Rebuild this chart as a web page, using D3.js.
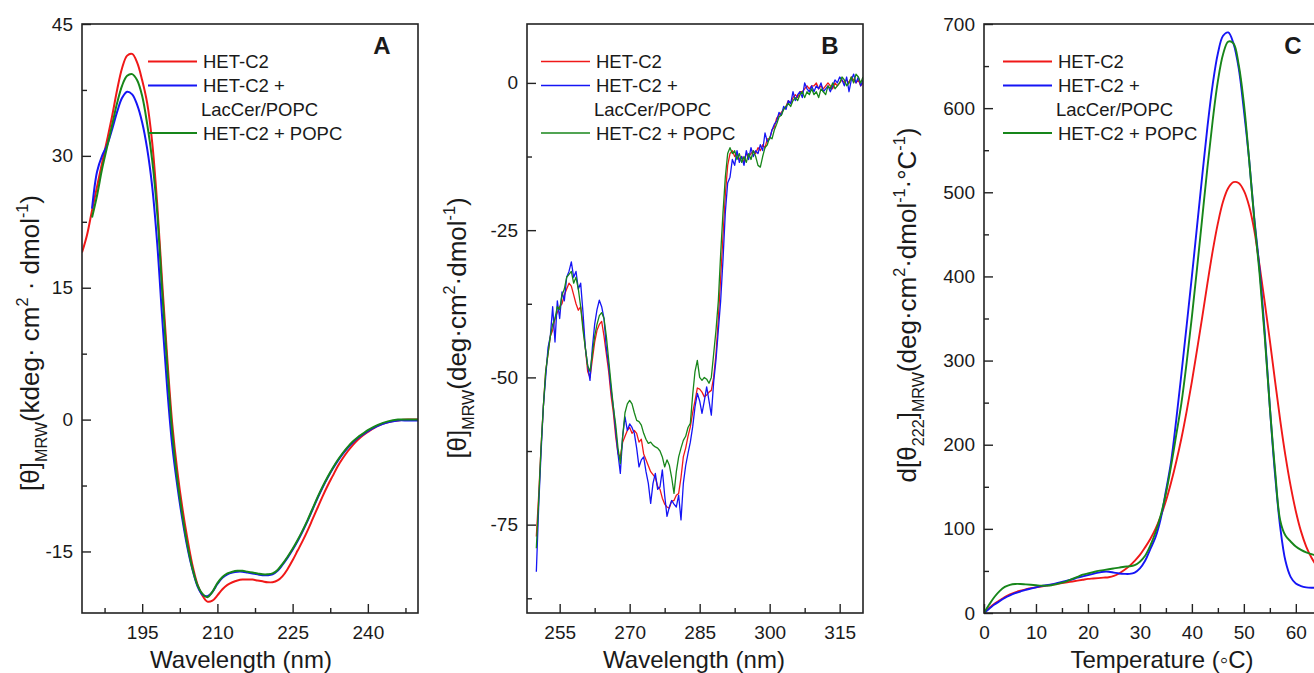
<!DOCTYPE html>
<html>
<head>
<meta charset="utf-8">
<script src="https://cdn.jsdelivr.net/npm/d3@7"></script>
<style>
  body { margin: 0; background: #fff; }
  text { font-family: Arial, "Liberation Sans", sans-serif; fill: #1a1a1a; }
</style>
</head>
<body>
<svg id="chart" width="1314" height="673"></svg>
<script>
// series names / colours shared by the three panels
const seriesNames = ["HET-C2", "HET-C2 +", "HET-C2 + POPC"];
const seriesColors = ["#f01818", "#1515f5", "#17861a"];

// panel A: far-UV CD (kdeg cm2 dmol-1)
const wlA = [183,184,185,186,187,188,189,190,191,192,193,194,195,196,197,198,199,200,201,202,203,204,205,206,207,208,209,210,
  211,212,213,214,215,216,217,218,219,220,221,222,223,224,225,226,227,228,229,230,231,232,233,234,235,236,237,238,239,240,242,244,246,248,250];
const redA = [19,21,23.8,26.5,29.2,31.8,34.5,37.5,40,41.4,41.6,40.6,38.6,36,31.5,24.5,15.5,7,-0.5,-5.8,-10,-13.5,-16.5,-18.7,-20,-20.7,-20.6,-20,
  -19.3,-18.8,-18.5,-18.3,-18.2,-18.2,-18.2,-18.3,-18.4,-18.5,-18.5,-18.3,-17.8,-17,-16,-14.9,-13.8,-12.6,-11.3,-10,-8.7,-7.5,-6.4,-5.3,-4.4,-3.6,-2.9,-2.3,-1.8,-1.4,-0.7,-0.3,-0.1,0,0];
const blueA = [null,null,24,28.2,30,31.2,33,35,36.6,37.3,37,35.8,33.8,30.8,26.5,20,11.5,3.5,-3,-7.5,-11.3,-14.5,-17,-18.9,-19.9,-20.1,-19.6,-18.7,
  -18,-17.6,-17.4,-17.3,-17.3,-17.4,-17.5,-17.6,-17.7,-17.7,-17.6,-17.2,-16.5,-15.7,-14.8,-13.8,-12.7,-11.5,-10.2,-8.9,-7.7,-6.6,-5.6,-4.7,-3.9,-3.2,-2.6,-2.1,-1.7,-1.3,-0.7,-0.3,-0.1,-0.1,-0.1];
const greenA = [null,null,23,25.5,28.5,31,33.5,36,38,39.1,39.3,38.6,36.8,33.6,29.5,23.5,14.5,6,-1.5,-6.8,-10.8,-14.2,-16.9,-18.8,-19.8,-20.2,-19.6,-18.6,
  -17.9,-17.5,-17.3,-17.2,-17.2,-17.3,-17.4,-17.5,-17.6,-17.6,-17.5,-17.1,-16.4,-15.6,-14.7,-13.7,-12.6,-11.4,-10.1,-8.8,-7.6,-6.5,-5.5,-4.6,-3.8,-3.1,-2.5,-2,-1.6,-1.2,-0.6,-0.2,0,0,0];

// panel B: near-UV CD, sampled every 0.5 nm from 250 to 320 nm
const wlB = d3.range(250, 320.25, 0.5);
const redB = [-77,-70,-62,-55,-49,-46,-43,-42,-40,-39,-38,-37.5,-36,-35,-34,-34.5,-36,-37.5,-38.6,-38,
  -41,-45,-49,-50,-47,-44,-42,-41,-40.5,-43,-46,-49,-53,-56,-60,-63,-63.5,-61,-60,-59,
  -58.5,-59.5,-59,-59.5,-61,-60.5,-63,-64,-65,-66,-66.5,-67,-68.5,-69,-70.5,-71.5,-72,-72.2,-71,-70.9,
  -70,-69.7,-67,-63.5,-62,-60,-58.4,-56,-54,-51.8,-52,-52.5,-53.3,-53,-52.5,-52.2,-50,-46,-40,-33,
  -26,-19,-14,-12,-11.5,-12.5,-12,-13,-12.5,-13.5,-12,-12.5,-12,-11.5,-12,-11,-11.5,-10.5,-11,-9.5,
  -9.5,-8,-7.5,-6,-5.5,-5,-4.5,-4,-3,-3.5,-2.5,-2,-2.5,-1.5,-1.5,-1,-0.5,-1,-0.5,-0.5,
  0,-1,-0.5,-1,-0.5,0,-0.5,-1,0,-0.5,0,0.5,0,0.5,0,1,0.5,0,0.5,-0.5,0];
const blueB = [-83,-72,-63,-55,-50,-45,-43,-38,-44,-37,-40,-35.5,-37,-33,-32,-30.4,-33,-32,-35,-34,
  -39,-45,-48,-50.5,-45,-41,-38.5,-36.9,-38,-40,-45,-48,-52,-55,-59,-63,-66.3,-60,-56.7,-59,
  -57.9,-58.5,-59.5,-62,-65.2,-64,-63.5,-66,-68,-71.4,-68,-66.3,-69,-68.6,-65.7,-70,-73.6,-72,-70.9,-71.5,
  -72,-70,-74.2,-68,-65,-62.9,-61,-58.4,-55,-52.7,-54,-56.1,-54,-51.6,-54,-56.4,-50.8,-47,-42,-37,
  -30,-22,-17,-16,-13,-14,-11.5,-13.5,-12.5,-14,-11.5,-13,-11,-12.5,-11.5,-12,-10.5,-11.5,-8.5,-10,
  -9.5,-8,-7,-6.5,-5,-5.5,-4,-4.5,-3,-3.5,-1.5,-3,-2,-1.5,-2.5,0,-1,-1.5,-0.5,-1.5,
  -0.5,-1,0,-1.5,-1,-0.5,-1.5,-0.5,0.5,0,1,0.5,-0.5,1,-1.5,0.5,1.5,0,1,-0.5,0.5];
const greenB = [-79,-71,-62,-55,-49,-46,-43,-41,-40,-38,-38.5,-36,-35,-33,-32.5,-32,-34,-33,-35,-38,
  -42,-45,-48,-49,-46,-43,-41,-39.5,-39,-40,-43,-47,-51,-55,-58,-62,-64.6,-60,-56,-54.5,
  -53.9,-54.5,-56,-57.3,-57.5,-58.1,-59.5,-60.5,-61.2,-61,-61.5,-61.8,-62,-62.5,-63.5,-65.2,-64,-64.9,-67,-69.7,
  -66,-63.5,-62,-60.7,-60,-58.5,-57.8,-53,-49,-47.1,-50,-50.5,-50,-50.3,-51,-50,-46,-42,-37,-29,
  -22,-16,-12,-11,-12,-11.5,-13,-12,-13.5,-12.5,-13.5,-12,-13,-11.5,-12.5,-14,-14.3,-12.5,-11,-10.5,
  -9.2,-9.5,-8,-7,-5.8,-5.5,-4.5,-4,-3.5,-4,-3,-2.5,-3,-2,-1.5,-2.5,-1.5,-2,-1,-2,
  -1.5,-2.5,-1,-1.5,-2,-0.5,-1,0,-1,-0.5,0,1,0.5,-0.5,0,1,0,1.5,1,0,1];

// panel C: first derivative of thermal melt, every 1 degree C
const tempC = d3.range(0, 67, 1);
const redC = [0,6,11,15,19,22,24.5,26.5,28,29.5, 30.5,31.5,32.5,33.5,34.5,35.5,36.5,37.5,38.5,39.5,
  40.5,41,41.5,42,42.5,44,47,51,56,62, 69,78,88,100,115,133,155,180,208,240,
  275,313,352,392,430,463,489,505,512,511, 502,484,455,414,370,324,276,229,187,151,
  121,97,79,66,56,48,42];
const blueC = [0,5,10,14,18,21,23.5,25.5,27.5,29, 30.5,32,33,34,35.5,37,38.5,40,42,43.5,
  45,46.5,48,49,49,48,47,46.5,46.5,48, 53,62,76,90,112,145,180,230,285,342,
  400,460,520,578,628,665,686,690,677,648, 598,540,470,410,335,245,165,102,62,43,
  35,32,30.5,30,30,30,30];
const greenC = [0,10,19,26,31,33.5,34.5,34.5,34,33.5, 33,32.5,32.5,33,34.5,36,38,40.5,43,45.5,
  47,48.5,50,51,52,53,54,55,55.5,57, 61,68,80,96,116,142,175,212,250,298,
  352,410,470,530,585,632,664,679,677,652, 606,540,468,405,330,245,170,110,92,85,
  79,75,72,70,68,66,64];

const ticksA = { x: [195, 210, 225, 240], xMinor: [187.5, 202.5, 217.5, 232.5, 247.5],
                 y: [-15, 0, 15, 30, 45], yMinor: [-7.5, 7.5, 22.5, 37.5] };
const ticksB = { x: [255, 270, 285, 300, 315], xMinor: [262.5, 277.5, 292.5, 307.5],
                 y: [-75, -50, -25, 0], yMinor: [-87.5, -62.5, -37.5, -12.5] };
const ticksC = { x: [0, 10, 20, 30, 40, 50, 60], xMinor: [5, 15, 25, 35, 45, 55, 65],
                 y: [0, 100, 200, 300, 400, 500, 600, 700], yMinor: [50, 150, 250, 350, 450, 550, 650] };

const svg = d3.select('#chart');
const plotTop = 24, plotH = 589;
const plain = d => String(d);   // keeps the short hyphen used in the figure

// text with sub/superscripts built from parts
function richText(sel, parts, size) {
    let shift = 0;
    parts.forEach(p => {
        const target = p.sub ? size * 0.32 : p.sup ? -size * 0.42 : 0;
        sel.append('tspan')
            .attr('dy', target - shift)
            .attr('font-size', (p.sub || p.sup) ? size * 0.62 : size)
            .text(p.t);
        shift = target;
    });
}

function drawPanel(cfg) {
    const g = svg.append('g').attr('transform', `translate(${cfg.left},${plotTop})`);
    const x = d3.scaleLinear().domain(cfg.xDomain).range([0, cfg.width]);
    const y = d3.scaleLinear().domain(cfg.yDomain).range([plotH, 0]);

    g.append('clipPath').attr('id', 'clip' + cfg.id)
        .append('rect').attr('width', cfg.width).attr('height', plotH);

    const line = d3.line()
        .defined(d => d[1] != null)
        .x(d => x(d[0]))
        .y(d => y(d[1]))
        .curve(cfg.curve);

    cfg.series.forEach((vals, i) => {
        g.append('path')
            .datum(cfg.xs.map((v, j) => [v, vals[j]]))
            .attr('clip-path', `url(#clip${cfg.id})`)
            .attr('fill', 'none')
            .attr('stroke', seriesColors[i])
            .attr('stroke-width', cfg.lw)
            .attr('stroke-linejoin', 'round')
            .attr('d', line);
    });

    // axes, ticks pointing inward
    const xAxis = g.append('g').attr('transform', `translate(0,${plotH})`)
        .call(d3.axisBottom(x).tickValues(cfg.ticks.x).tickSize(-9).tickPadding(13).tickFormat(plain));
    g.append('g').attr('transform', `translate(0,${plotH})`)
        .call(d3.axisBottom(x).tickValues(cfg.ticks.xMinor).tickSize(-5).tickFormat(''));
    g.append('g')
        .call(d3.axisLeft(y).tickValues(cfg.ticks.y).tickSize(-9).tickPadding(9).tickFormat(plain));
    g.append('g')
        .call(d3.axisLeft(y).tickValues(cfg.ticks.yMinor).tickSize(-5).tickFormat(''));

    g.selectAll('.domain').remove();
    g.selectAll('.tick line').attr('stroke', '#222').attr('stroke-width', 1.4);
    g.selectAll('.tick text').attr('font-size', 19).attr('fill', '#1a1a1a')
        .style('font-family', 'Arial, "Liberation Sans", sans-serif');
    xAxis.selectAll('.tick text').attr('dy', '0.71em');

    g.append('rect')
        .attr('width', cfg.width).attr('height', plotH)
        .attr('fill', 'none').attr('stroke', '#222').attr('stroke-width', 1.6);

    // panel letter
    g.append('text')
        .attr('x', cfg.letterX - cfg.left).attr('y', 54 - plotTop)
        .attr('text-anchor', 'middle')
        .attr('font-size', 24).attr('font-weight', 'bold')
        .text(cfg.letter);

    // legend
    const rows = [61.5, 85.5, 133];
    rows.forEach((ry, i) => {
        g.append('line')
            .attr('x1', cfg.legX).attr('x2', cfg.legX + 49)
            .attr('y1', ry - plotTop).attr('y2', ry - plotTop)
            .attr('stroke', seriesColors[i]).attr('stroke-width', cfg.lw);
        g.append('text')
            .attr('x', cfg.legX + 55).attr('y', ry - plotTop + 6.5)
            .attr('font-size', 18.5)
            .text(seriesNames[i]);
    });
    g.append('text')
        .attr('x', cfg.legX + 53).attr('y', 109 - plotTop + 6.5)
        .attr('font-size', 18.5)
        .text('LacCer/POPC');

    // axis titles
    const xt = g.append('text')
        .attr('x', cfg.xTitleX - cfg.left).attr('y', 668 - plotTop)
        .attr('text-anchor', 'middle').attr('font-size', 24);
    richText(xt, cfg.xTitle, 24);

    const yt = g.append('text')
        .attr('transform', `translate(${cfg.yTitleX - cfg.left},${cfg.yTitleY - plotTop}) rotate(-90)`)
        .attr('text-anchor', 'middle').attr('font-size', 26);
    richText(yt, cfg.yTitle, 26);
}

drawPanel({
    id: 'A', left: 82, width: 336, xDomain: [183, 250], yDomain: [-22, 45],
    xs: wlA, series: [redA, blueA, greenA], curve: d3.curveCatmullRom, lw: 2,
    ticks: ticksA, letter: 'A', letterX: 382, legX: 66,
    xTitle: [{ t: 'Wavelength (nm)' }], xTitleX: 241,
    yTitle: [{ t: '[θ]' }, { t: 'MRW', sub: true }, { t: '(kdeg· cm' }, { t: '2', sup: true },
             { t: ' · dmol' }, { t: '-1', sup: true }, { t: ')' }],
    yTitleX: 39, yTitleY: 343
});

drawPanel({
    id: 'B', left: 527, width: 336, xDomain: [248, 320], yDomain: [-90, 10],
    xs: wlB, series: [redB, blueB, greenB], curve: d3.curveLinear, lw: 1.3,
    ticks: ticksB, letter: 'B', letterX: 830, legX: 14,
    xTitle: [{ t: 'Wavelength (nm)' }], xTitleX: 694,
    yTitle: [{ t: '[θ]' }, { t: 'MRW', sub: true }, { t: '(deg·cm' }, { t: '2', sup: true },
             { t: '·dmol' }, { t: '-1', sup: true }, { t: ')' }],
    yTitleX: 466, yTitleY: 328
});

drawPanel({
    id: 'C', left: 984, width: 343, xDomain: [0, 66], yDomain: [0, 700],
    xs: tempC, series: [redC, blueC, greenC], curve: d3.curveCatmullRom, lw: 1.9,
    ticks: ticksC, letter: 'C', letterX: 1293, legX: 19,
    xTitle: [{ t: 'Temperature (◦C)' }], xTitleX: 1162,
    yTitle: [{ t: 'd[θ' }, { t: '222', sub: true }, { t: ']' }, { t: 'MRW', sub: true },
             { t: '(deg·cm' }, { t: '2', sup: true }, { t: '·dmol' }, { t: '-1', sup: true },
             { t: '·°C' }, { t: '-1', sup: true }, { t: ')' }],
    yTitleX: 916, yTitleY: 305
});
</script>
</body>
</html>
